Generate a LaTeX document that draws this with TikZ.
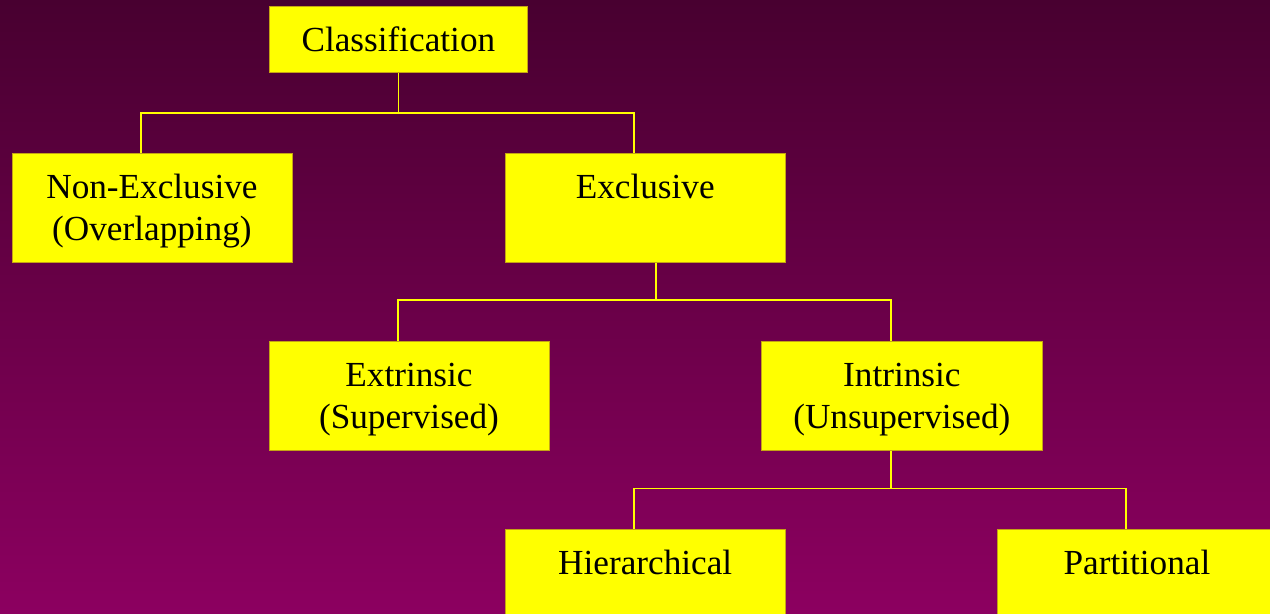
\documentclass[tikz,border=0pt]{standalone}
\usepackage{fontspec}
\setmainfont{Liberation Serif}
\definecolor{bgtop}{RGB}{72,0,48}
\definecolor{bgbottom}{RGB}{140,0,96}
\definecolor{boxyellow}{RGB}{255,255,0}
\definecolor{boxedge}{RGB}{196,164,20}
\definecolor{linkyellow}{RGB}{255,255,0}
\usepackage{tikz}
\usetikzlibrary{positioning}
\newcommand\catfont{\fontsize{26.5}{31.5}\selectfont}
\tikzset{
  catbox/.style={fill=boxyellow,draw=boxedge,line width=0.6pt,anchor=north,
    inner xsep=0pt,inner ysep=0pt,align=center,text width=7.41cm,
    text height=1.19cm,text depth=1.69cm,font=\catfont},
  link/.style={draw=linkyellow,line width=1.2pt}
}

\begin{document}
\begin{tikzpicture}
  % background
  \fill[top color=bgtop,bottom color=bgbottom] (0,0) rectangle (33.60,-16.22);
  \useasboundingbox (0,0) rectangle (33.60,-16.22);
  \clip (0,0) rectangle (33.60,-16.22);

  % Level 0
  \node[catbox,text width=6.85cm,text depth=0.56cm] (classif) at (10.54,-0.16) {Classification};

  % Level 1
  \node[catbox] (nonexcl) at (4.02,-4.05) {Non-Exclusive\\(Overlapping)};
  \node[catbox] (excl) at (17.07,-4.05) {Exclusive};

  % Level 2
  \node[catbox] (extrin) at (10.82,-9.02) {Extrinsic\\(Supervised)};
  \node[catbox] (intrin) at (23.86,-9.02) {Intrinsic\\(Unsupervised)};

  % Level 3
  \node[catbox] (hier) at (17.07,-14.00) {Hierarchical};
  \node[catbox] (partit) at (30.08,-14.00) {Partitional};

  % Connectors
  \draw[link] (classif.south) -- ++(0,-1.08);
  \draw[link] ([xshift=-0.29cm]nonexcl.north) -- ++(0,1.06) -| ([xshift=-0.29cm]excl.north);
  \draw[link] ([xshift=0.29cm]excl.south) -- ++(0,-1.0);
  \draw[link] ([xshift=-0.29cm]extrin.north) -- ++(0,1.08) -| ([xshift=-0.29cm]intrin.north);
  \draw[link] ([xshift=-0.29cm]intrin.south) -- ++(0,-1.0);
  \draw[link] ([xshift=-0.29cm]hier.north) -- ++(0,1.08) -| ([xshift=-0.29cm]partit.north);
\end{tikzpicture}
\end{document}
